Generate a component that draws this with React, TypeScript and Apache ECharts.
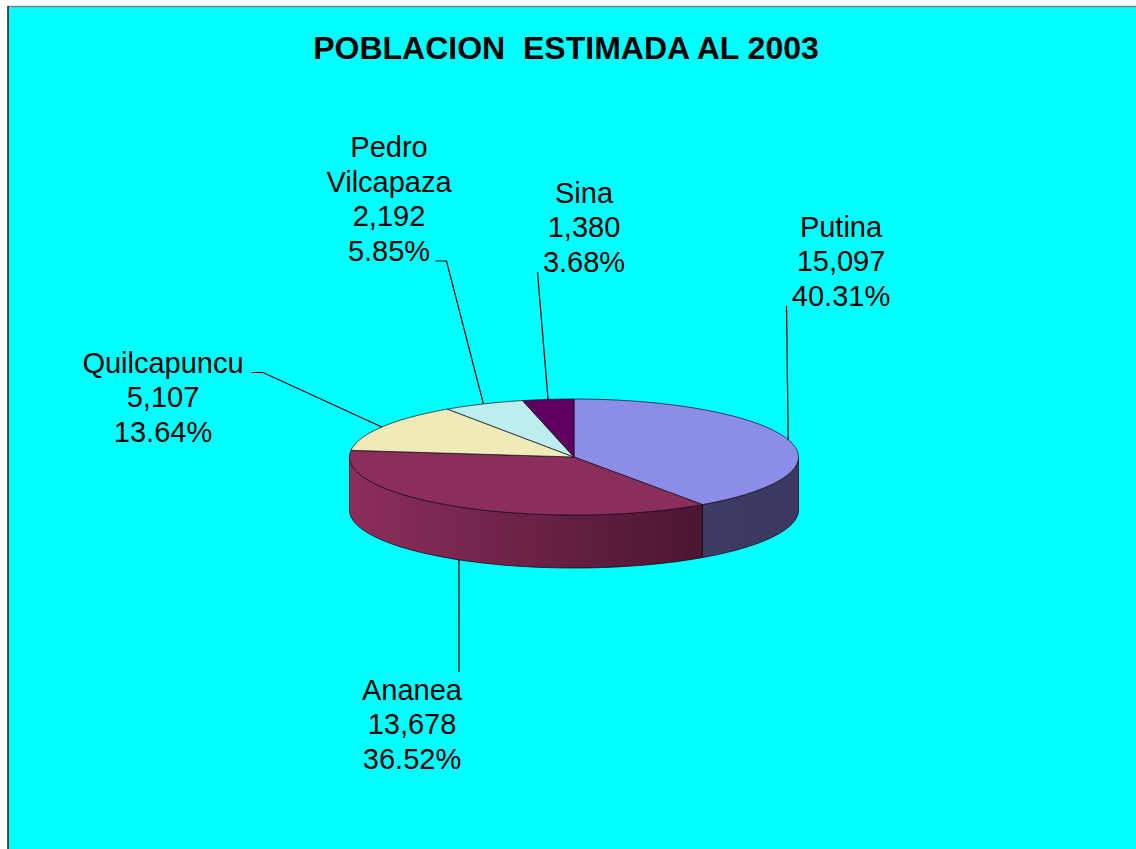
import React, { useEffect, useRef } from "react";
import * as echarts from "echarts";

// ---- data ----
const CATEGORIES = ["Putina", "Ananea", "Quilcapuncu", "Pedro Vilcapaza", "Sina"];
const LABEL_TEXTS = ["Putina", "Ananea", "Quilcapuncu", "Pedro\nVilcapaza", "Sina"];
const VALUES = [15097, 13678, 5107, 2192, 1380];
const TITLE = "POBLACION  ESTIMADA AL 2003";

// ---- styles / layout (not data) ----
const TOP_COLORS = ["#8c8ce9", "#8c2e5b", "#eeebb9", "#bdeeee", "#5f005f"];
const SIDE_COLORS = [
  ["#3e3c66", "#3a3860"],
  ["#8c2e5b", "#4a1630"],
  ["#8f8d6f", "#8f8d6f"],
  ["#718f8f", "#718f8f"],
  ["#390039", "#390039"],
];
// label block centre [x, y]
const LABEL_POS = [
  [841, 261],
  [412, 724],
  [163, 397],
  [389, 199],
  [584, 227],
];
// leader line points on the label side
const LEADER_START = [
  [[786.5, 306]],
  [[459, 672]],
  [[251.5, 372.5], [263, 372.5]],
  [[435.5, 261], [446.5, 261]],
  [[537.5, 272]],
];

const CX = 574;
const CY = 457;
const RX = 224.5;
const RY = 58;
const DEPTH = 53;
const FONT = '"Liberation Sans", Arial, Helvetica, sans-serif';

const TOTAL = VALUES.reduce((a, b) => a + b, 0);

function pt(deg: number, dy: number) {
  const r = (deg * Math.PI) / 180;
  return [CX + RX * Math.cos(r), CY - RY * Math.sin(r) + dy];
}
function arc(from: number, to: number, dy: number) {
  const n = Math.max(2, Math.ceil(Math.abs(from - to) / 1.5));
  const out: number[][] = [];
  for (let i = 0; i <= n; i++) out.push(pt(from + ((to - from) * i) / n, dy));
  return out;
}

export default function App() {
  const ref = useRef<HTMLDivElement>(null);
  useEffect(() => {
    if (!ref.current) return;
    const chart = echarts.init(ref.current, undefined, { renderer: "svg" });
    chart.setOption({
      animation: false,
      backgroundColor: "#ffffff",
      title: {
        text: TITLE,
        left: 561,
        top: 27,
        textAlign: "center",
        textStyle: { fontFamily: FONT, fontSize: 32, fontWeight: "bold", color: "#000" },
      },
      graphic: [
        { type: "rect", z: -10, shape: { x: 8, y: 7, width: 1130, height: 845 }, style: { fill: "#00ffff" } },
        { type: "line", z: -9, shape: { x1: 8, y1: 6.5, x2: 1136, y2: 6.5 }, style: { stroke: "#7f7f7f", lineWidth: 1.5 } },
        { type: "line", z: -9, shape: { x1: 8, y1: 6, x2: 8, y2: 849 }, style: { stroke: "#1a1a1a", lineWidth: 1.5 } },
      ],
      series: [
        {
          type: "custom",
          coordinateSystem: "none",
          data: CATEGORIES.map((c, i) => ({ name: c, value: [VALUES[i]] })),
          renderItem: (params: any, api: any) => {
            const i = params.dataIndex;
            const v = api.value(0);
            let before = 0;
            for (let k = 0; k < i; k++) before += VALUES[k];
            const a1 = 90 - (before / TOTAL) * 360;
            const a2 = a1 - (v / TOTAL) * 360;
            const children: any[] = [];
            // side (front visible part)
            for (const k of [-1, 0, 1]) {
              const lo = Math.max(a2, -180 + 360 * k);
              const hi = Math.min(a1, 360 * k);
              if (hi > lo) {
                const pts = [...arc(hi, lo, 0), ...arc(lo, hi, DEPTH)];
                children.push({
                  type: "polygon",
                  z2: 1,
                  shape: { points: pts },
                  style: {
                    fill: new echarts.graphic.LinearGradient(0, 0, 1, 0, [
                      { offset: 0, color: SIDE_COLORS[i][0] },
                      { offset: 1, color: SIDE_COLORS[i][1] },
                    ]),
                    stroke: "rgba(20,0,20,0.75)",
                    lineWidth: 1,
                  },
                });
              }
            }
            // top face
            children.push({
              type: "polygon",
              z2: 2,
              shape: { points: [[CX, CY], ...arc(a1, a2, 0)] },
              style: { fill: TOP_COLORS[i], stroke: "rgba(30,10,30,0.7)", lineWidth: 1 },
            });
            // leader line
            const mid = (a1 + a2) / 2;
            const sinMid = Math.sin((mid * Math.PI) / 180);
            const end = pt(mid, sinMid < 0 ? DEPTH : 0);
            children.push({
              type: "polyline",
              z2: 3,
              shape: { points: [...LEADER_START[i], end] },
              style: { stroke: "#000", lineWidth: 1.2, fill: null },
            });
            // label
            const pct = ((v / TOTAL) * 100).toFixed(2) + "%";
            const valTxt = v.toLocaleString("en-US");
            children.push({
              type: "text",
              z2: 4,
              x: LABEL_POS[i][0],
              y: LABEL_POS[i][1],
              style: {
                text: `${LABEL_TEXTS[i]}\n${valTxt}\n${pct}`,
                fill: "#000",
                fontFamily: FONT,
                fontSize: 29,
                lineHeight: 34.5,
                align: "center",
                verticalAlign: "middle",
              },
            });
            return { type: "group", children };
          },
        },
      ],
    });
    return () => chart.dispose();
  }, []);
  return (
    <div
      ref={ref}
      style={{ position: "absolute", left: 0, top: 0, width: 1136, height: 849 }}
    />
  );
}
